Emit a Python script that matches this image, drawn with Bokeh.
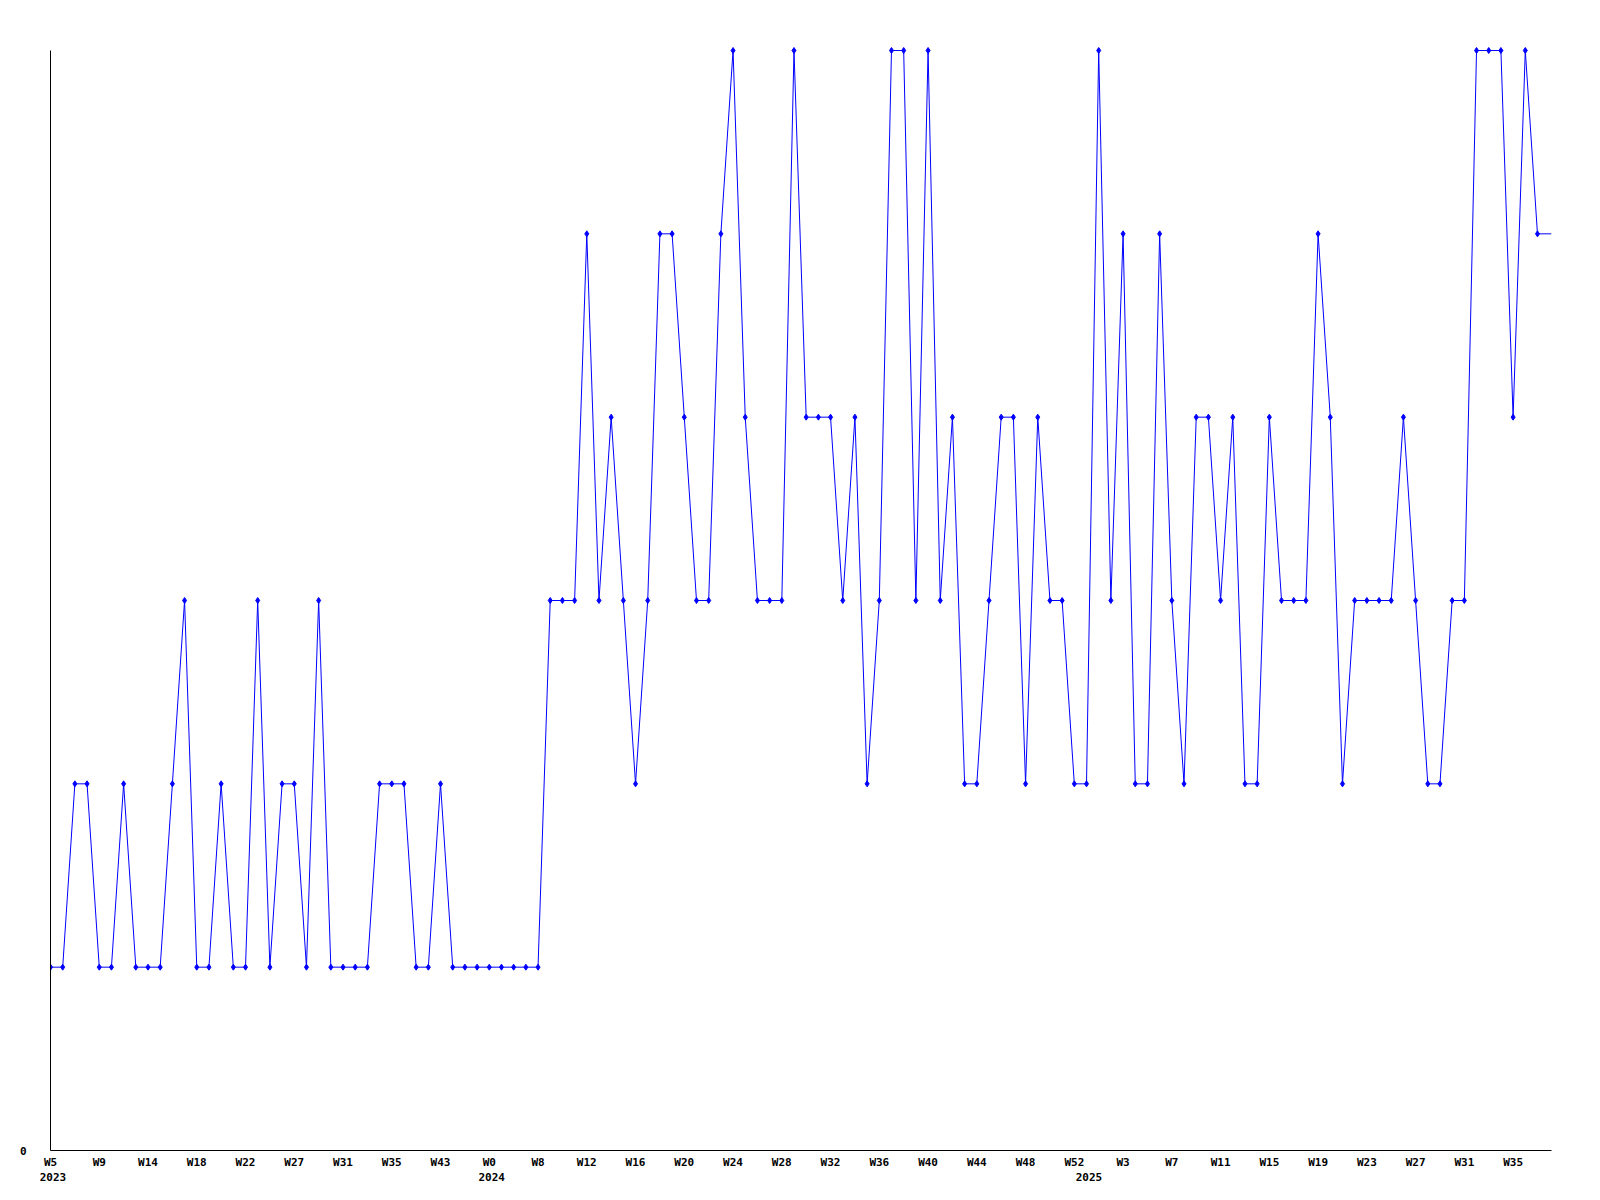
from bokeh.plotting import figure
from bokeh.models import FixedTicker, LinearAxis, Range1d
from bokeh.embed import file_html
from bokeh.resources import INLINE

# Weekly values, W5 2023 onward
values = [
    1, 1, 2, 2, 1, 1, 2, 1, 1, 1, 2, 3, 1, 1, 2, 1, 1, 3, 1, 2, 2, 1, 3, 1, 1, 1, 1,
    2, 2, 2, 1, 1, 2, 1, 1, 1, 1, 1, 1, 1, 1,
    3, 3, 3, 5, 3, 4, 3, 2, 3, 5, 5, 4, 3, 3, 5, 6, 4, 3, 3, 3, 6, 4, 4, 4, 3, 4, 2,
    3, 6, 6, 3, 6, 3, 4, 2, 2, 3, 4, 4, 2, 4, 3,
    3, 2, 2, 6, 3, 5, 2, 2, 5, 3, 2, 4, 4, 3, 4, 2, 2, 4, 3, 3, 3, 5, 4, 2, 3, 3, 3,
    3, 4, 3, 2, 2, 3, 3, 6, 6, 6, 4, 6, 5,
]
week_labels = ["W5", "W9", "W14", "W18", "W22", "W27", "W31", "W35", "W43", "W0",
               "W8", "W12", "W16", "W20", "W24", "W28", "W32", "W36", "W40", "W44",
               "W48", "W52", "W3", "W7", "W11", "W15", "W19", "W23", "W27", "W31", "W35"]
year_labels = ["2023", "2024", "2025"]
year_positions = [0.2, 36.2, 85.2]
label_step = 4
y_max = 6

xs = list(range(len(values)))
x_end = len(values) - 1 + 1.15
y_pad = 5 / (1100 / y_max)

FONT = "DejaVu Sans Mono"

p = figure(width=1590, height=1190, output_backend="svg", toolbar_location=None,
           x_range=Range1d(0, x_end), y_range=Range1d(0, y_max + y_pad),
           x_axis_type=None, y_axis_type=None)
p.min_border_left = 50
p.min_border_right = 39
p.min_border_top = 45
p.min_border_bottom = 40
p.outline_line_color = None
p.grid.visible = False
p.background_fill_color = "white"

# line, continuing flat to the right edge
p.line(xs + [x_end], values + [values[-1]], line_color="#0000ff", line_width=1)
p.scatter(xs, values, marker="diamond", size=6, fill_color="#0000ff",
          line_color="#0000ff", line_width=1)

tick_pos = [i * label_step for i in range(len(week_labels))]

xaxis = LinearAxis(ticker=FixedTicker(ticks=tick_pos),
                   major_label_overrides={t: l for t, l in zip(tick_pos, week_labels)})
xaxis.major_tick_out = 0
xaxis.major_tick_in = 0
xaxis.minor_tick_out = 0
xaxis.minor_tick_in = 0
xaxis.major_label_standoff = 5
xaxis.axis_line_color = "black"
xaxis.axis_line_width = 1
xaxis.major_label_text_font = FONT
xaxis.major_label_text_font_style = "bold"
xaxis.major_label_text_font_size = "11px"
xaxis.major_label_text_color = "black"
p.add_layout(xaxis, "below")

yaxis2 = LinearAxis(ticker=FixedTicker(ticks=year_positions),
                    major_label_overrides={t: l for t, l in zip(year_positions, year_labels)})
yaxis2.axis_line_color = None
yaxis2.major_tick_out = 0
yaxis2.major_tick_in = 0
yaxis2.minor_tick_out = 0
yaxis2.minor_tick_in = 0
yaxis2.major_label_standoff = 1
yaxis2.major_label_text_font = FONT
yaxis2.major_label_text_font_style = "bold"
yaxis2.major_label_text_font_size = "11px"
yaxis2.major_label_text_color = "black"
p.add_layout(yaxis2, "below")

yaxis = LinearAxis(ticker=FixedTicker(ticks=[0]), bounds=(0, y_max))
yaxis.major_tick_out = 0
yaxis.major_tick_in = 0
yaxis.minor_tick_out = 0
yaxis.minor_tick_in = 0
yaxis.major_label_standoff = 24
yaxis.axis_line_color = "black"
yaxis.major_label_text_font = FONT
yaxis.major_label_text_font_style = "bold"
yaxis.major_label_text_font_size = "11px"
yaxis.major_label_text_color = "black"
p.add_layout(yaxis, "left")

open("out.html", "w").write(file_html(p, INLINE))
